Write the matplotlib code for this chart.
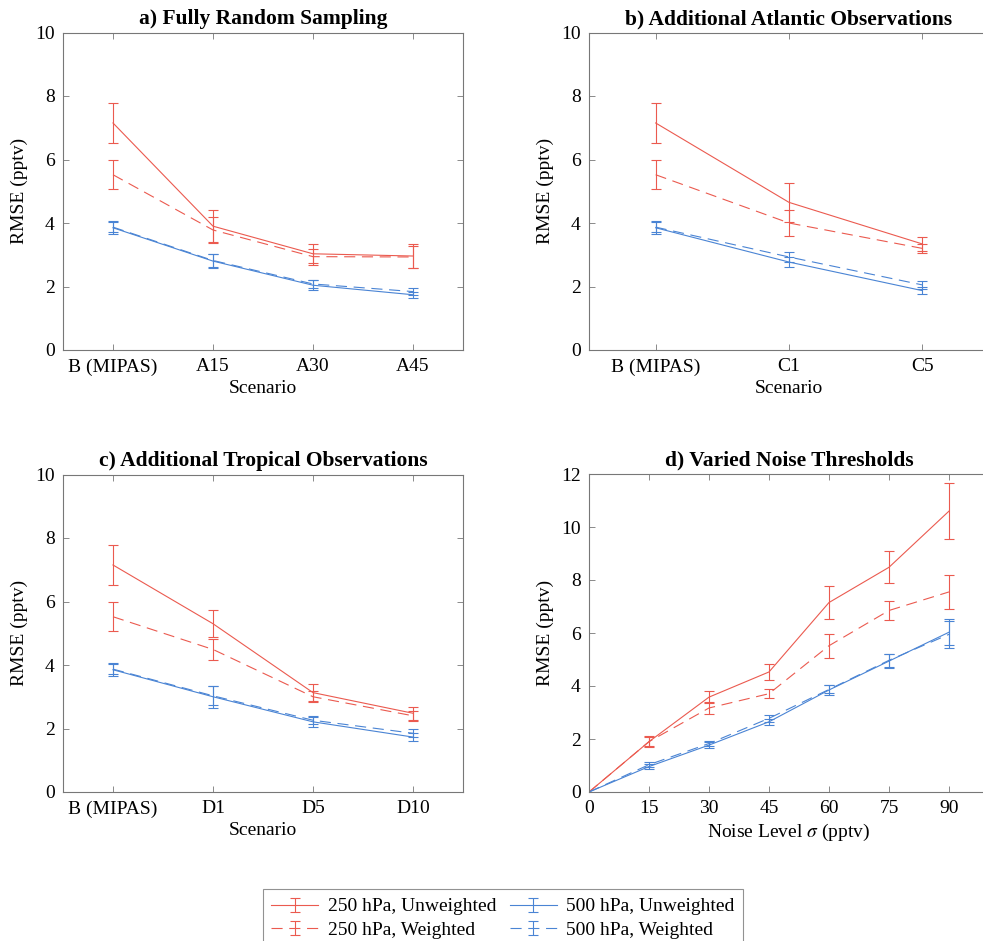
import numpy as np
import matplotlib
matplotlib.use("Agg")
import matplotlib.pyplot as plt
from matplotlib.legend_handler import HandlerErrorbar

plt.rcParams['font.family'] = ['Liberation Serif', 'DejaVu Serif']
plt.rcParams['mathtext.fontset'] = 'stix'

red = '#EB5A4F'
blue = '#4A84D4'

# panel a) fully random sampling
a_labels = ['B (MIPAS)', 'A15', 'A30', 'A45']
a_250u = [7.15, 3.90, 3.03, 2.96]
a_250u_err = [0.64, 0.50, 0.30, 0.37]
a_250w = [5.52, 3.78, 2.94, 2.93]
a_250w_err = [0.45, 0.42, 0.25, 0.36]
a_500u = [3.85, 2.80, 2.04, 1.74]
a_500u_err = [0.20, 0.23, 0.16, 0.10]
a_500w = [3.87, 2.82, 2.08, 1.84]
a_500w_err = [0.15, 0.20, 0.13, 0.10]

# panel b) additional atlantic observations
b_labels = ['B (MIPAS)', 'C1', 'C5']
b_250u = [7.15, 4.65, 3.34]
b_250u_err = [0.64, 0.62, 0.22]
b_250w = [5.52, 4.00, 3.20]
b_250w_err = [0.45, 0.42, 0.15]
b_500u = [3.85, 2.77, 1.87]
b_500u_err = [0.20, 0.17, 0.12]
b_500w = [3.87, 2.93, 2.05]
b_500w_err = [0.15, 0.17, 0.12]

# panel c) additional tropical observations
c_labels = ['B (MIPAS)', 'D1', 'D5', 'D10']
c_250u = [7.15, 5.30, 3.13, 2.48]
c_250u_err = [0.64, 0.43, 0.27, 0.20]
c_250w = [5.52, 4.49, 3.00, 2.40]
c_250w_err = [0.45, 0.32, 0.18, 0.15]
c_500u = [3.85, 3.00, 2.21, 1.73]
c_500u_err = [0.20, 0.35, 0.16, 0.12]
c_500w = [3.87, 3.03, 2.26, 1.85]
c_500w_err = [0.15, 0.30, 0.13, 0.12]

# panel d) varied noise thresholds
noise = [0, 15, 30, 45, 60, 75, 90]
d_250u = [0, 1.90, 3.58, 4.53, 7.15, 8.48, 10.60]
d_250u_err = [0, 0.20, 0.24, 0.30, 0.64, 0.60, 1.07]
d_250w = [0, 1.90, 3.17, 3.71, 5.52, 6.85, 7.55]
d_250w_err = [0, 0.18, 0.22, 0.17, 0.45, 0.37, 0.63]
d_500u = [0, 0.96, 1.77, 2.65, 3.85, 4.94, 6.03]
d_500u_err = [0, 0.10, 0.10, 0.12, 0.20, 0.25, 0.50]
d_500w = [0, 1.03, 1.83, 2.78, 3.87, 4.97, 5.95]
d_500w_err = [0, 0.10, 0.10, 0.12, 0.15, 0.25, 0.50]

dash = (0, (10, 6))


def draw(ax, x, series, every=1):
    handles = []
    for y, e, col, ls in series:
        h = ax.errorbar(x, y, yerr=e, color=col, ls=ls, lw=0.8, elinewidth=0.8,
                        capsize=3.6, capthick=0.8, errorevery=every)
        handles.append(h)
    return handles


def style(ax, title, xlabel):
    ax.set_title(title, fontsize=15.5, fontweight='bold', pad=6)
    ax.set_xlabel(xlabel, fontsize=14, labelpad=3)
    ax.set_ylabel('RMSE (pptv)', fontsize=14, labelpad=5)
    ax.tick_params(direction='in', top=True, right=True, labelsize=14,
                   color='#777777', length=4, width=0.6, pad=6)
    for s in ax.spines.values():
        s.set_color('#777777')
        s.set_linewidth(0.8)


fig = plt.figure(figsize=(9.83, 9.41), dpi=100)
W, H = 983.0, 941.0
axa = fig.add_axes([63 / W, (H - 350) / H, 400 / W, 317.5 / H])
axb = fig.add_axes([589 / W, (H - 350) / H, 400 / W, 317.5 / H])
axc = fig.add_axes([63 / W, (H - 792) / H, 400 / W, 317.5 / H])
axd = fig.add_axes([589 / W, (H - 792) / H, 400 / W, 318 / H])

xa = np.arange(1, len(a_labels) + 1)
hs = draw(axa, xa, [(a_250u, a_250u_err, red, '-'), (a_250w, a_250w_err, red, dash),
                    (a_500u, a_500u_err, blue, '-'), (a_500w, a_500w_err, blue, dash)])
axa.set_xticks(xa)
axa.set_xticklabels(a_labels)
axa.set_xlim(0.5, 4.5)
axa.set_ylim(0, 10)
style(axa, 'a) Fully Random Sampling', 'Scenario')

xb = np.arange(1, len(b_labels) + 1)
draw(axb, xb, [(b_250u, b_250u_err, red, '-'), (b_250w, b_250w_err, red, dash),
               (b_500u, b_500u_err, blue, '-'), (b_500w, b_500w_err, blue, dash)])
axb.set_xticks(xb)
axb.set_xticklabels(b_labels)
axb.set_xlim(0.5, 3.5)
axb.set_ylim(0, 10)
style(axb, 'b) Additional Atlantic Observations', 'Scenario')

xc = np.arange(1, len(c_labels) + 1)
draw(axc, xc, [(c_250u, c_250u_err, red, '-'), (c_250w, c_250w_err, red, dash),
               (c_500u, c_500u_err, blue, '-'), (c_500w, c_500w_err, blue, dash)])
axc.set_xticks(xc)
axc.set_xticklabels(c_labels)
axc.set_xlim(0.5, 4.5)
axc.set_ylim(0, 10)
style(axc, 'c) Additional Tropical Observations', 'Scenario')

draw(axd, noise, [(d_250u, d_250u_err, red, '-'), (d_250w, d_250w_err, red, dash),
                  (d_500u, d_500u_err, blue, '-'), (d_500w, d_500w_err, blue, dash)],
     every=(1, 1))
axd.set_xticks(noise)
axd.set_xlim(0, 100)
axd.set_ylim(0, 12)
style(axd, 'd) Varied Noise Thresholds', r'Noise Level $\sigma$ (pptv)')

leg = fig.legend(hs, ['250 hPa, Unweighted', '250 hPa, Weighted',
                      '500 hPa, Unweighted', '500 hPa, Weighted'],
                 loc='upper center', bbox_to_anchor=(503 / W, 1 - 889 / H),
                 ncol=2, fontsize=14, frameon=True, fancybox=False,
                 handlelength=2.4, handletextpad=0.5, columnspacing=0.7,
                 labelspacing=0.3, borderpad=0.45, borderaxespad=0,
                 handler_map={type(hs[0]): HandlerErrorbar(yerr_size=0.36, xerr_size=0.3)})
leg.get_frame().set_edgecolor('#777777')
leg.get_frame().set_linewidth(0.8)

fig.savefig('out.png', dpi=100)
